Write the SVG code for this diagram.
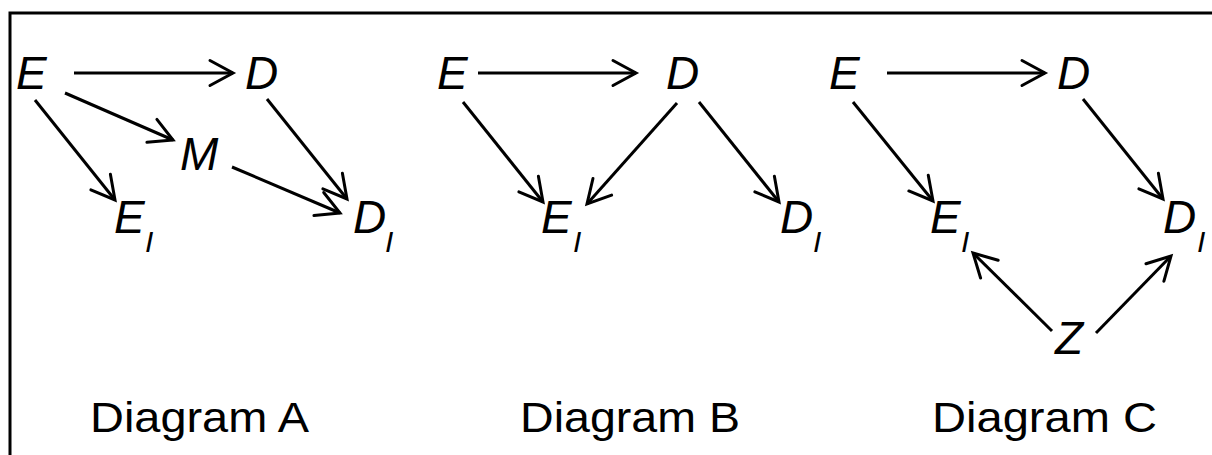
<svg xmlns="http://www.w3.org/2000/svg" width="1212" height="455" viewBox="0 0 1212 455">
<style>
.n{font-family:"Liberation Sans",Arial,sans-serif;font-style:italic;font-size:46px;fill:#000}
.s{font-family:"Liberation Sans",Arial,sans-serif;font-style:italic;font-size:30px;fill:#000}
.lbl{font-family:"Liberation Sans",Arial,sans-serif;font-size:42px;fill:#000}
.c line{stroke:#000;stroke-width:3;marker-end:url(#ah)}
</style>
<defs>
<marker id="ah" markerUnits="userSpaceOnUse" orient="auto" refX="0" refY="0" markerWidth="40" markerHeight="40" viewBox="-30 -20 40 40" overflow="visible">
<path d="M-23,-12.5 L0,0 L-23,12.5" fill="none" stroke="#000" stroke-width="3" stroke-linecap="round" stroke-linejoin="miter"/>
</marker>
</defs>
<rect x="0" y="0" width="1212" height="455" fill="#fff"/>
<rect x="10" y="13" width="1220" height="470" fill="none" stroke="#000" stroke-width="3"/>
<g class="c" id="connectors">
<line x1="74" y1="73" x2="233" y2="73"/>
<line x1="65" y1="93" x2="173" y2="140"/>
<line x1="35" y1="100" x2="115" y2="200"/>
<line x1="267" y1="99" x2="347" y2="199"/>
<line x1="232" y1="167" x2="340" y2="213"/>
<line x1="478" y1="73" x2="636" y2="73"/>
<line x1="463" y1="102" x2="543" y2="202"/>
<line x1="677" y1="103" x2="587" y2="204"/>
<line x1="699" y1="102" x2="779" y2="202"/>
<line x1="887" y1="73" x2="1045" y2="73"/>
<line x1="853" y1="102" x2="933" y2="201"/>
<line x1="1083" y1="99" x2="1163" y2="199"/>
<line x1="1052" y1="331" x2="973" y2="253"/>
<line x1="1096" y1="333" x2="1171" y2="256"/>
</g>
<g id="A_E"><text class="n" x="16" y="89">E</text></g>
<g id="A_D"><text class="n" x="245" y="89">D</text></g>
<g id="A_M"><text class="n" x="180" y="170">M</text></g>
<g id="A_EI"><text class="n" x="114" y="233">E</text><text class="s" x="145" y="252">I</text></g>
<g id="A_DI"><text class="n" x="353" y="233">D</text><text class="s" x="385" y="252">I</text></g>
<g id="B_E"><text class="n" x="437" y="89">E</text></g>
<g id="B_D"><text class="n" x="666" y="89">D</text></g>
<g id="B_EI"><text class="n" x="541" y="233">E</text><text class="s" x="573" y="252">I</text></g>
<g id="B_DI"><text class="n" x="780" y="233">D</text><text class="s" x="813" y="252">I</text></g>
<g id="C_E"><text class="n" x="829" y="89">E</text></g>
<g id="C_D"><text class="n" x="1057" y="89">D</text></g>
<g id="C_EI"><text class="n" x="930" y="233">E</text><text class="s" x="961" y="252">I</text></g>
<g id="C_DI"><text class="n" x="1163" y="233">D</text><text class="s" x="1197" y="252">I</text></g>
<g id="C_Z"><text class="n" x="1055" y="354">Z</text></g>
<g id="labels">
<text class="lbl" x="90" y="432" textLength="219" lengthAdjust="spacingAndGlyphs">Diagram A</text>
<text class="lbl" x="520" y="432" textLength="220" lengthAdjust="spacingAndGlyphs">Diagram B</text>
<text class="lbl" x="932" y="432" textLength="225" lengthAdjust="spacingAndGlyphs">Diagram C</text>
</g>
</svg>
